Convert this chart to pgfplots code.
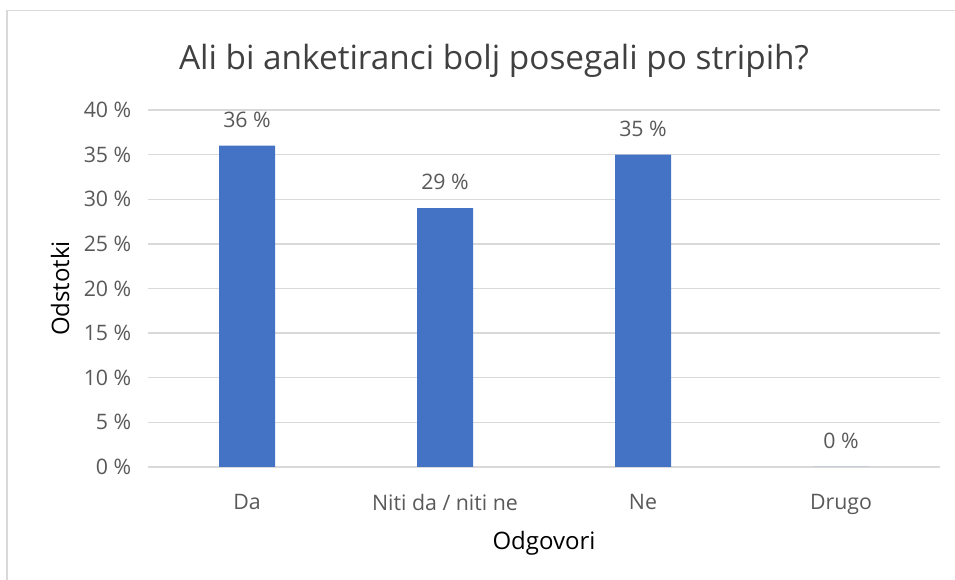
\documentclass[border=0pt]{standalone}
\usepackage{fontspec}
\setmainfont{Open Sans}
\usepackage{pgfplots}
\pgfplotsset{compat=1.18}
\definecolor{barblue}{HTML}{4472C4}
\definecolor{gridgray}{HTML}{D9D9D9}
\definecolor{txtgray}{HTML}{595959}
\definecolor{titlegray}{HTML}{404040}
\begin{document}
\begin{tikzpicture}
\useasboundingbox (0,0) rectangle (716.25pt,435pt);
\draw[gridgray, line width=1pt] (5.25pt,-5pt) -- (5.25pt,427pt) -- (725pt,427pt);
\node[font=\fontsize{25}{29}\selectfont, text=titlegray] at (370.5pt,389pt) {Ali bi anketiranci bolj posegali po stripih?};
\begin{axis}[
  at={(111pt,84.75pt)}, anchor=south west,
  width=594pt, height=267.75pt, scale only axis,
  xmin=-0.5, xmax=3.5, ymin=0, ymax=40,
  ytick={0,5,...,40},
  xtick={0,1,2,3},
  xticklabels={Da, Niti da / niti ne, Ne, Drugo},
  ymajorgrids,
  grid style={gridgray, line width=1pt},
  axis line style={draw=none},
  major tick length=0pt,
  /pgf/number format/assume math mode=true,
  yticklabel={\pgfmathprintnumber{\tick}~\%},
  tick label style={font=\fontsize{16}{19}\selectfont, text=txtgray},
  yticklabel style={xshift=-9pt},
  xticklabel style={yshift=-17pt},
  xlabel={Odgovori}, ylabel={Odstotki},
  label style={font=\fontsize{18}{21}\selectfont, text=black},
  xlabel style={at={(axis description cs:0.5,-0.2129)}, anchor=center},
  ylabel style={at={(axis description cs:-0.1111,0.5)}, anchor=center},
  ybar, bar width=42pt,
  nodes near coords={\pgfmathprintnumber{\pgfplotspointmeta}~\%},
  nodes near coords style={font=\fontsize{16}{19}\selectfont, text=txtgray, anchor=south, yshift=10pt},
]
\addplot[fill=barblue, draw=none] coordinates {(0,36) (1,29) (2,35) (3,0)};
\end{axis}
\end{tikzpicture}
\end{document}
